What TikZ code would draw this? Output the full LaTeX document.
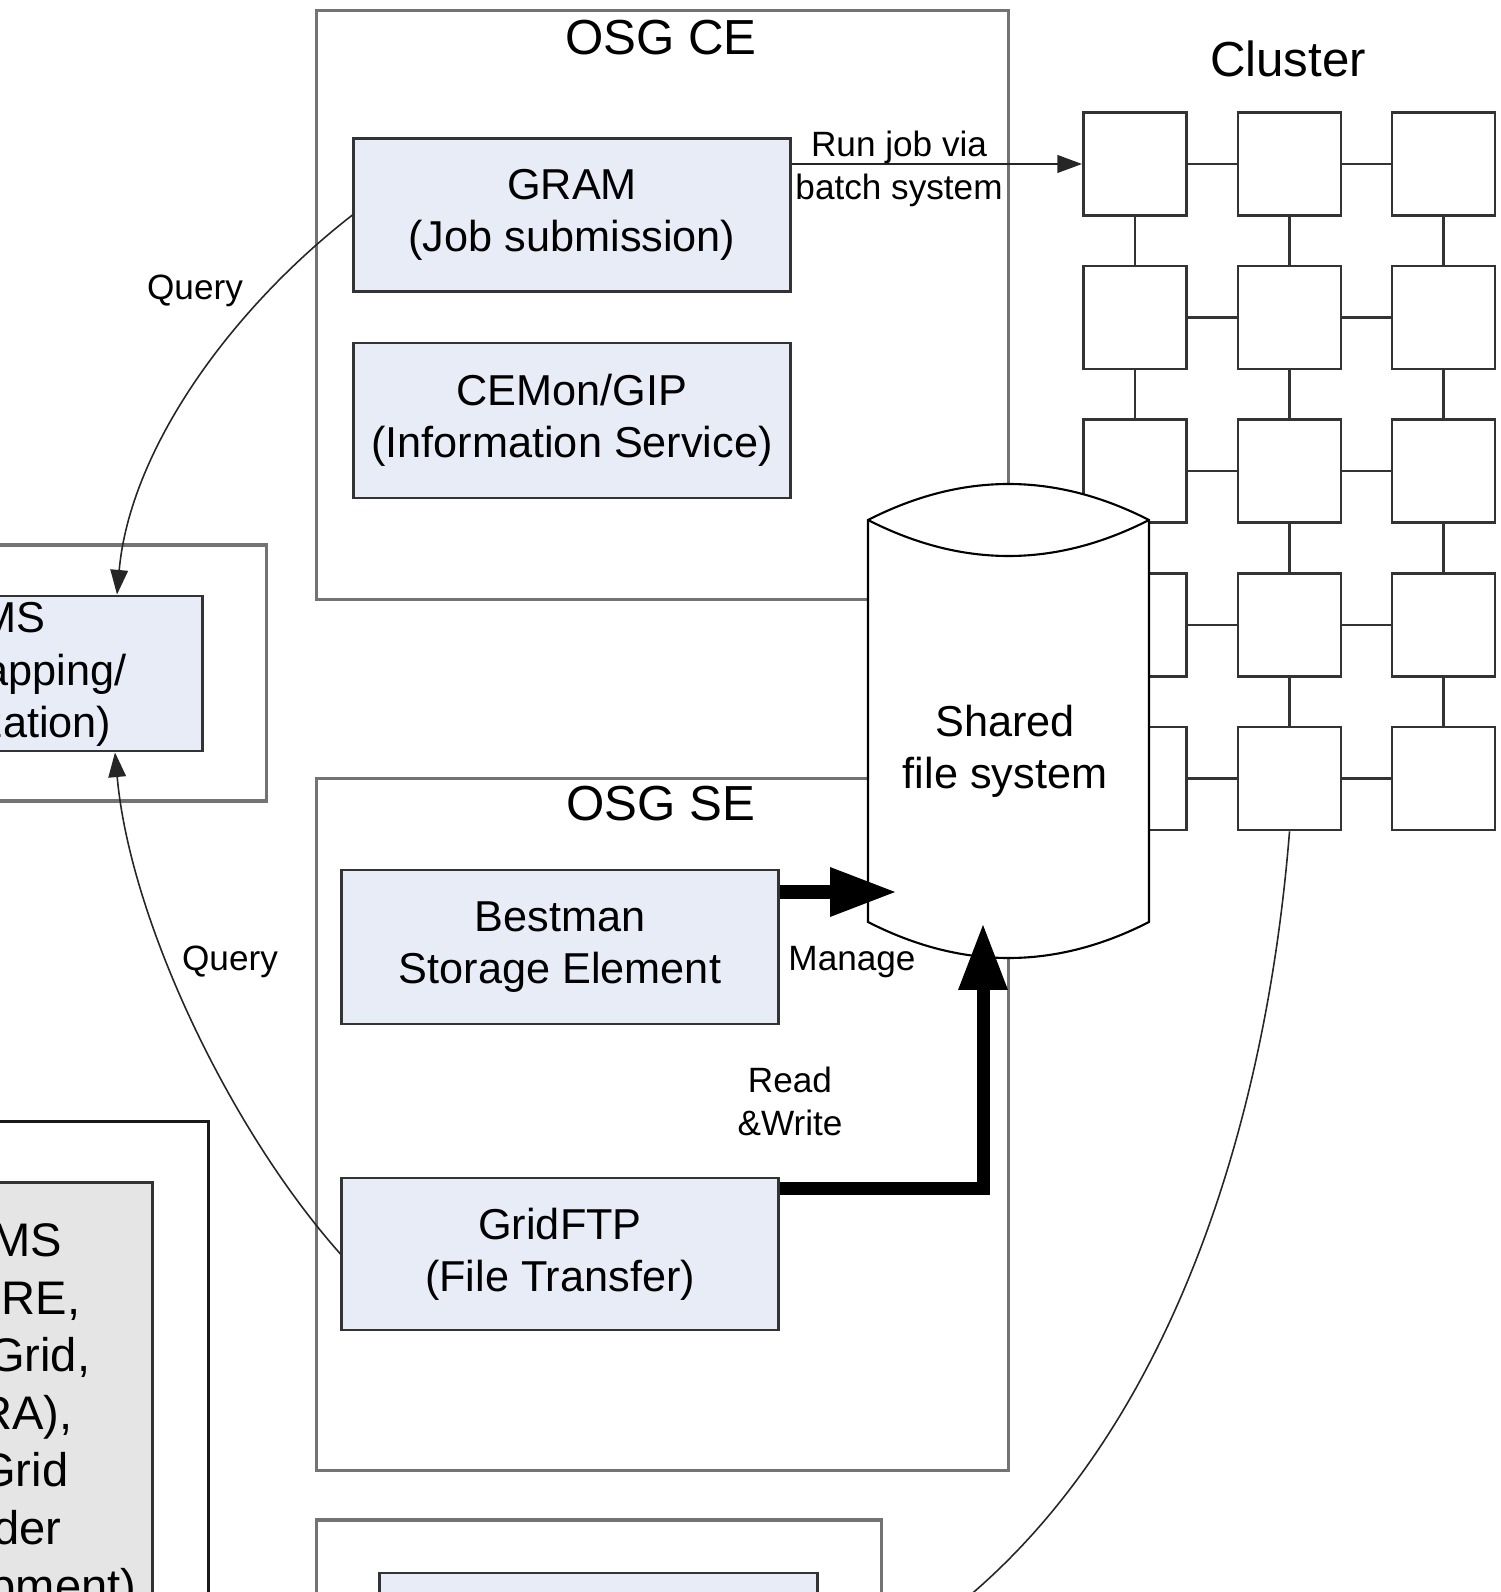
\documentclass[tikz,border=0pt]{standalone}
\usepackage{fontspec}
\setmainfont{Liberation Sans}
\usetikzlibrary{arrows.meta}
\definecolor{svcblue}{HTML}{E8ECF6}
\definecolor{admingray}{HTML}{E5E5E5}
\newcommand{\svcfont}{\fontsize{12.3}{14.8}\selectfont}
\newcommand{\hdfont}{\fontsize{14}{16.8}\selectfont}
\newcommand{\lblfont}{\fontsize{10}{12.2}\selectfont}
\newcommand{\admfont}{\fontsize{13.4}{16.3}\selectfont}

\begin{document}
\begin{tikzpicture}[x=0.01cm,y=-0.01cm,>={Triangle[length=7pt,width=5pt]},
    frame box/.style={draw=black!55,line width=0.9pt,inner sep=0pt},
    svc node/.style={rectangle,draw=black!80,line width=0.8pt,fill=svcblue,minimum width=4.36cm,minimum height=1.53cm,align=center,font=\svcfont},
    cell node/.style={rectangle,draw=black!80,line width=0.8pt,fill=white,minimum size=1.03cm,inner sep=0pt},
    cut text/.style={anchor=base east,inner sep=0pt},
    small label/.style={font=\lblfont,align=center,inner sep=0pt},
    link/.style={-,draw=black!80,line width=0.8pt},
    query/.style={->,draw=black!85,line width=0.45pt},
    fat/.style={draw=black,line width=3.7pt,line join=miter,-{Triangle[length=19pt,width=13pt]}}]
  \useasboundingbox (0,0) rectangle (1500,1592);
  \clip (0,0) rectangle (1500,1592);
  \begin{scope}
    \node[cell node] (a1) at (1135,164) {};
    \node[cell node] (b1) at (1289.5,164) {};
    \node[cell node] (c1) at (1443.5,164) {};
    \node[cell node] (a2) at (1135,317.5) {};
    \node[cell node] (b2) at (1289.5,317.5) {};
    \node[cell node] (c2) at (1443.5,317.5) {};
    \node[cell node] (a3) at (1135,471) {};
    \node[cell node] (b3) at (1289.5,471) {};
    \node[cell node] (c3) at (1443.5,471) {};
    \node[cell node] (a4) at (1135,625) {};
    \node[cell node] (b4) at (1289.5,625) {};
    \node[cell node] (c4) at (1443.5,625) {};
    \node[cell node] (a5) at (1135,778.5) {};
    \node[cell node] (b5) at (1289.5,778.5) {};
    \node[cell node] (c5) at (1443.5,778.5) {};
    \path[link] (a1) edge (b1) (b1) edge (c1) (a2) edge (b2) (b2) edge (c2);
    \path[link] (a3) edge (b3) (b3) edge (c3) (a4) edge (b4) (b4) edge (c4);
    \path[link] (a5) edge (b5) (b5) edge (c5);
    \path[link] (a1) edge (a2) (a2) edge (a3) (a3) edge (a4) (a4) edge (a5);
    \path[link] (b1) edge (b2) (b2) edge (b3) (b3) edge (b4) (b4) edge (b5);
    \path[link] (c1) edge (c2) (c2) edge (c3) (c3) edge (c4) (c4) edge (c5);
    \node[font=\hdfont] (clu) at (1288,59) {Cluster};

    \node[frame box,minimum width=6.91cm,minimum height=5.88cm] (ce) at (662.5,305) {};
    \node[font=\hdfont] (cetitle) at (661,38) {OSG CE};
    \node[svc node] (gram) at (572,215) {GRAM\\(Job submission)};
    \node[svc node,minimum height=1.55cm] (cemon) at (572,420.5) {CEMon/GIP\\(Information Service)};

    \node[frame box,minimum width=6.91cm,minimum height=6.91cm] (se) at (662.5,1124.5) {};
    \node[font=\hdfont] (setitle) at (661,804) {OSG SE};
    \node[svc node,minimum height=1.54cm] (best) at (560,947) {Bestman\\Storage Element};
    \node[svc node,minimum height=1.52cm] (ftp) at (560,1254) {GridFTP\\(File Transfer)};

    \node[frame box,minimum width=5.64cm,minimum height=1.80cm] (bot) at (599,1610) {};
    \node[svc node,minimum width=4.37cm,minimum height=2.34cm] (store) at (598.5,1690) {};

    \node[frame box,minimum width=5.66cm,minimum height=2.56cm] (vomsbox) at (-17,673) {};
    \node[svc node,minimum height=1.55cm] (voms) at (-16,673.5) {};
    \node[cut text,font=\svcfont] (vm1) at (46,633) {MS};
    \node[cut text,font=\svcfont] (vm2) at (127,685) {apping/};
    \node[cut text,font=\svcfont] (vm3) at (112,737) {zation)};

    \node[frame box,draw=black!90,minimum width=6.08cm,minimum height=5.78cm] (admbox) at (-96,1411) {};
    \node[rectangle,draw=black!80,line width=0.8pt,fill=admingray,minimum width=5.52cm,minimum height=5.17cm] (adm) at (-124,1441.5) {};
    \node[cut text,font=\admfont] (ad1) at (63,1256) {MS};
    \node[cut text,font=\admfont] (ad2) at (81,1314) {RE,};
    \node[cut text,font=\admfont] (ad3) at (91,1371) {Grid,};
    \node[cut text,font=\admfont] (ad4) at (73,1429) {RA),};
    \node[cut text,font=\admfont] (ad5) at (69,1486) {Grid};
    \node[cut text,font=\admfont] (ad6) at (62,1544) {der};
    \node[cut text,font=\admfont] (ad7) at (137,1602) {pment)};

    \draw[->,draw=black!85,line width=0.6pt] (gram.east |- a1) -- (a1)
      node[small label,pos=.37,yshift=-1.3pt] (runjob) {Run job via\\batch system};
    \draw[query] (gram.west) .. controls (230,310) and (130,450) .. (voms.north -| 117,0);
    \draw[query] (ftp.west) .. controls (230,1130) and (130,920) .. (voms.south -| 115,0);
    \draw[draw=black!85,line width=0.45pt] (b5.south) .. controls (1260,1200) and (1120,1560) .. (store.east);
    \node[small label] (q1) at (195,291) {Query};
    \node[small label] (q2) at (230,962) {Query};

    \draw[fill=white,draw=black,line width=0.6pt] (868,520) .. controls (962,472) and (1055,472) .. (1149,520)
      -- (1149,922) .. controls (1055,970) and (962,970) .. (868,922) -- cycle;
    \draw[draw=black,line width=0.6pt] (868,520) .. controls (962,568) and (1055,568) .. (1149,520);
    \node[align=center,font=\svcfont] (fs) at (1005,751) {Shared\\file system};

    \coordinate (mgtip) at (897,892);
    \coordinate (rwbend) at (983,1188);
    \coordinate (rwtip) at (983,923);
    \draw[fat] (best.east |- mgtip) -- (mgtip);
    \draw[fat] (ftp.east |- rwbend) -- (rwbend) -- (rwtip);
    \node[small label] (mg) at (852,962) {Manage};
    \node[small label] (rw) at (790,1101) {Read\\\&Write};
  \end{scope}
\end{tikzpicture}
\end{document}
